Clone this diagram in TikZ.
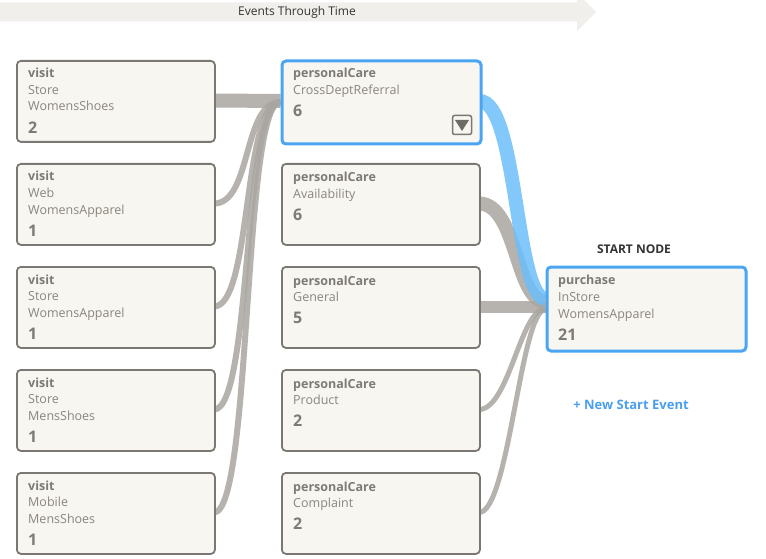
\documentclass[tikz,border=0pt]{standalone}
\usepackage{fontspec}
\setmainfont{Open Sans}
\usetikzlibrary{calc}
\definecolor{boxfill}{HTML}{F8F6F1}
\definecolor{boxdraw}{HTML}{7B7873}
\definecolor{txtgray}{HTML}{8A857E}
\definecolor{numgray}{HTML}{7E7A74}
\definecolor{flowgray}{HTML}{A9A5A0}
\definecolor{selblue}{HTML}{4AA5F3}
\definecolor{flowblue}{HTML}{6CBEFA}
\definecolor{bannerfill}{HTML}{F1EFEB}
\definecolor{darktxt}{HTML}{333333}
\definecolor{linkblue}{HTML}{4A9EEE}
\definecolor{ddgray}{HTML}{6F6B66}
\begin{document}
\begin{tikzpicture}[x=1pt,y=-1pt,
  box/.style={draw=boxdraw, line width=1.8pt, fill=boxfill, rounded corners=4pt,
    minimum width=198pt, minimum height=81pt, anchor=north west, inner sep=0pt},
  selbox/.style={box, draw=selblue, line width=3pt, minimum width=199pt, minimum height=83pt},
  lbl/.style={anchor=base west, inner sep=0pt, text=txtgray, font=\fontsize{12.5}{15}\selectfont},
  lblb/.style={lbl, text=numgray, font=\fontsize{12.5}{15}\selectfont\bfseries},
  num/.style={lbl, text=numgray, font=\fontsize{16}{18}\selectfont\bfseries},
  flow/.style={draw=flowgray, draw opacity=0.85, line cap=butt},
  flowb/.style={draw=flowblue, draw opacity=0.85, line cap=butt}]
\useasboundingbox (0,0) rectangle (766,559);

% banner
\fill[bannerfill] (0,2.5) -- (577,2.5) -- (577,-7) -- (596,12) -- (577,31) -- (577,21.5) -- (0,21.5) -- cycle;
\node[text=darktxt, font=\fontsize{12}{14}\selectfont, inner sep=0pt] (banner) at (297,12) {Events Through Time};

% boxes (placed first for anchors, drawn later via layers is avoided: define coordinates)
\begin{scope}[overlay]
\end{scope}

% column 1 positions
\foreach \i in {1,...,5}{
  \pgfmathsetmacro\yy{60+(\i-1)*103}
  \coordinate (v\i NW) at (16,\yy);
  \coordinate (v\i E) at (214,\yy+40.5);
}
\foreach \i in {2,...,5}{
  \pgfmathsetmacro\yy{163+(\i-2)*103}
  \coordinate (p\i NW) at (281,\yy);
  \coordinate (p\i W) at (281,\yy+40.5);
  \coordinate (p\i E) at (479,\yy+40.5);
}
\coordinate (p1W) at (280.5,101);
\coordinate (p1E) at (479.5,101);
\coordinate (sW) at (545.5,307.5);

% flows left
\draw[flow, line width=14pt] (v1E) -- (p1W);
\foreach \i in {2,...,5}{
  \draw[flow, line width=6pt] (v\i E) .. controls +(38,0) and +(-38,0) .. ($(p1W)+(0,1)$);
}
% flows right
\draw[flow, line width=14pt] (p2E) .. controls +(38,0) and +(-30,0) .. ($(sW)+(0,-6)$);
\draw[flow, line width=12pt] (p3E) -- ($(sW)+(0,-1)$);
\draw[flow, line width=5pt] (p4E) .. controls +(30,0) and +(-25,0) .. ($(sW)+(0,1)$);
\draw[flow, line width=5pt] (p5E) .. controls +(30,0) and +(-25,0) .. ($(sW)+(0,2)$);
\draw[flowb, line width=14pt] (p1E) .. controls +(38,0) and +(-30,0) .. ($(sW)+(0,-9)$);

% column 1 boxes
\foreach \i/\a/\b/\n in {1/Store/WomensShoes/2, 2/Web/WomensApparel/1, 3/Store/WomensApparel/1, 4/Store/MensShoes/1, 5/Mobile/MensShoes/1}{
  \node[box] (v\i) at (v\i NW) {};
  \node[lblb] (v\i a) at ($(v\i.north west)+(12,18)$) {visit};
  \node[lbl] (v\i b) at ($(v\i.north west)+(12,34.5)$) {\a};
  \node[lbl] (v\i c) at ($(v\i.north west)+(12,51)$) {\b};
  \node[num] (v\i n) at ($(v\i.north west)+(12,73.5)$) {\n};
}
% column 2 boxes
\node[selbox] (p1) at (280.5,59.5) {};
\node[lblb] (p1a) at ($(p1.north west)+(12.5,18.5)$) {personalCare};
\node[lbl] (p1b) at ($(p1.north west)+(12.5,35)$) {CrossDeptReferral};
\node[num] (p1n) at ($(p1.north west)+(12.5,57.5)$) {6};
\node[draw=boxdraw, line width=1.5pt, fill=boxfill, rounded corners=2pt, minimum size=19pt, inner sep=0pt] (dd) at (462,125) {};
\fill[ddgray] ($(dd.center)+(-7,-5)$) -- ($(dd.center)+(7,-5)$) -- ($(dd.center)+(0,6)$) -- cycle;

\foreach \i/\b/\n in {2/Availability/6, 3/General/5, 4/Product/2, 5/Complaint/2}{
  \node[box] (p\i) at (p\i NW) {};
  \node[lblb] (p\i a) at ($(p\i.north west)+(12,19)$) {personalCare};
  \node[lbl] (p\i b) at ($(p\i.north west)+(12,35.5)$) {\b};
  \node[num] (p\i n) at ($(p\i.north west)+(12,57)$) {\n};
}

% start node
\node[selbox, minimum height=84pt] (s) at (545.5,265.5) {};
\node[text=darktxt, font=\fontsize{12}{14}\selectfont\bfseries, inner sep=0pt] (stitle) at (634,249) {START NODE};
\node[lblb] (sa) at ($(s.north west)+(12.5,18.5)$) {purchase};
\node[lbl] (sb) at ($(s.north west)+(12.5,36)$) {InStore};
\node[lbl] (sc) at ($(s.north west)+(12.5,52.5)$) {WomensApparel};
\node[num] (sn) at ($(s.north west)+(12.5,74.5)$) {21};

\node[text=linkblue, font=\fontsize{13}{15}\selectfont\bfseries, inner sep=0pt] (newev) at (631,405) {+ New Start Event};
\end{tikzpicture}
\end{document}
